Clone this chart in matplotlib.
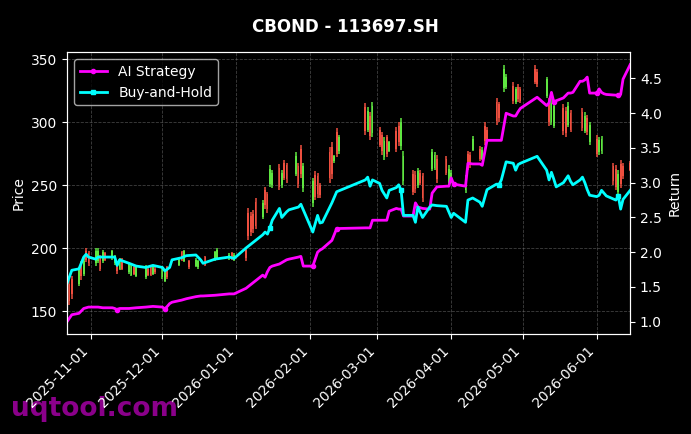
import matplotlib
matplotlib.use('Agg')
import matplotlib.pyplot as plt
import matplotlib.dates as mdates
from matplotlib.ticker import MultipleLocator
import pandas as pd

plt.style.use('dark_background')

# Strategy / benchmark cumulative return (right axis)
line_dates = [
    '2025-10-22', '2025-10-24', '2025-10-27', '2025-10-29', '2025-10-30', '2025-10-31',
    '2025-11-03', '2025-11-04', '2025-11-06', '2025-11-10', '2025-11-11', '2025-11-12',
    '2025-11-13', '2025-11-17', '2025-11-20', '2025-11-24', '2025-11-27', '2025-12-01',
    '2025-12-02', '2025-12-04', '2025-12-05', '2025-12-09', '2025-12-11', '2025-12-15',
    '2025-12-17', '2025-12-18', '2025-12-23', '2025-12-29', '2025-12-31', '2026-01-05',
    '2026-01-12', '2026-01-13', '2026-01-14', '2026-01-15', '2026-01-16', '2026-01-19',
    '2026-01-20', '2026-01-22', '2026-01-23', '2026-01-27', '2026-01-28', '2026-01-29',
    '2026-02-02', '2026-02-04', '2026-02-05', '2026-02-06', '2026-02-10', '2026-02-12',
    '2026-02-24', '2026-02-25', '2026-02-26', '2026-02-27', '2026-03-02', '2026-03-03',
    '2026-03-05', '2026-03-06', '2026-03-09', '2026-03-10', '2026-03-11', '2026-03-12',
    '2026-03-16', '2026-03-17', '2026-03-18', '2026-03-20', '2026-03-23', '2026-03-24',
    '2026-03-26', '2026-03-30', '2026-03-31', '2026-04-01', '2026-04-02', '2026-04-07',
    '2026-04-08', '2026-04-10', '2026-04-13', '2026-04-14', '2026-04-16', '2026-04-20',
    '2026-04-21', '2026-04-22', '2026-04-24', '2026-04-27', '2026-04-28', '2026-04-29',
    '2026-04-30', '2026-05-07', '2026-05-11', '2026-05-12', '2026-05-13', '2026-05-14',
    '2026-05-15', '2026-05-18', '2026-05-20', '2026-05-21', '2026-05-22', '2026-05-25',
    '2026-05-26', '2026-05-27', '2026-05-28', '2026-05-29', '2026-06-01', '2026-06-02',
    '2026-06-03', '2026-06-04', '2026-06-05', '2026-06-09', '2026-06-10', '2026-06-11',
    '2026-06-12', '2026-06-15',
]
ai_return = [
    1.00, 1.10, 1.12, 1.19, 1.20, 1.21,
    1.21, 1.21, 1.20, 1.20, 1.19, 1.17,
    1.19, 1.19, 1.20, 1.21, 1.22, 1.21,
    1.18, 1.26, 1.28, 1.31, 1.33, 1.36,
    1.37, 1.37, 1.38, 1.40, 1.40, 1.48,
    1.67, 1.64, 1.72, 1.78, 1.80, 1.83,
    1.85, 1.89, 1.90, 1.93, 1.94, 1.80,
    1.80, 2.00, 2.03, 2.05, 2.17, 2.34,
    2.35, 2.35, 2.35, 2.46, 2.46, 2.46,
    2.46, 2.59, 2.63, 2.62, 2.62, 2.52,
    2.52, 2.71, 2.65, 2.63, 2.62, 2.85,
    2.94, 2.95, 2.95, 3.07, 2.98, 2.95,
    3.28, 3.27, 3.27, 3.25, 3.61, 3.61,
    3.61, 3.61, 4.00, 3.96, 3.96, 4.02,
    4.07, 4.23, 4.11, 4.15, 4.30, 4.16,
    4.18, 4.22, 4.29, 4.29, 4.30, 4.46,
    4.46, 4.48, 4.52, 4.29, 4.29, 4.35,
    4.30, 4.28, 4.27, 4.26, 4.26, 4.27,
    4.49, 4.70,
]
bh_return = [
    1.55, 1.74, 1.76, 1.93, 1.97, 1.93,
    1.90, 1.93, 1.93, 1.93, 1.93, 1.81,
    1.89, 1.84, 1.80, 1.78, 1.81, 1.78,
    1.73, 1.78, 1.89, 1.92, 1.95, 1.96,
    1.89, 1.84, 1.90, 1.93, 1.91, 2.06,
    2.25, 2.29, 2.26, 2.35, 2.46, 2.63,
    2.50, 2.58, 2.61, 2.65, 2.69, 2.61,
    2.29, 2.53, 2.42, 2.43, 2.71, 2.87,
    3.04, 3.08, 2.95, 3.04, 2.99, 2.89,
    2.78, 2.89, 2.93, 2.97, 2.89, 2.53,
    2.53, 2.43, 2.65, 2.50, 2.65, 2.68,
    2.67, 2.66, 2.58, 2.50, 2.56, 2.43,
    2.75, 2.78, 2.72, 2.66, 2.90, 2.98,
    2.97, 3.04, 3.30, 3.28, 3.18, 3.26,
    3.28, 3.38, 3.18, 3.04, 3.15, 3.05,
    2.94, 3.00, 3.10, 3.02, 2.97, 3.04,
    3.08, 3.00, 2.90, 2.82, 2.80, 2.82,
    2.89, 2.85, 2.81, 2.75, 2.81, 2.62,
    2.76, 2.89,
]
# points where a trade marker shows on each curve
ai_marks = [11, 18, 42, 47, 70, 89, 100, 106]
bh_marks = [33, 58, 78, 106]

# Daily OHLC of the bond (left axis)
candle_dates = [
    '2025-10-22', '2025-10-23', '2025-10-24', '2025-10-27', '2025-10-28', '2025-10-29',
    '2025-10-30', '2025-10-31', '2025-11-03', '2025-11-04', '2025-11-05', '2025-11-06',
    '2025-11-07', '2025-11-10', '2025-11-11', '2025-11-12', '2025-11-13', '2025-11-14',
    '2025-11-17', '2025-11-18', '2025-11-19', '2025-11-20', '2025-11-24', '2025-11-25',
    '2025-11-26', '2025-11-27', '2025-11-28', '2025-12-01', '2025-12-02', '2025-12-03',
    '2025-12-08', '2025-12-09', '2025-12-10', '2025-12-12', '2025-12-15', '2025-12-16',
    '2025-12-19', '2025-12-23', '2025-12-24', '2025-12-29', '2025-12-30', '2025-12-31',
    '2026-01-05', '2026-01-06', '2026-01-07', '2026-01-08', '2026-01-09', '2026-01-12',
    '2026-01-13', '2026-01-14', '2026-01-15', '2026-01-16', '2026-01-19', '2026-01-20',
    '2026-01-21', '2026-01-22', '2026-01-26', '2026-01-27', '2026-01-28', '2026-01-29',
    '2026-02-02', '2026-02-03', '2026-02-04', '2026-02-05', '2026-02-09', '2026-02-10',
    '2026-02-11', '2026-02-12', '2026-02-13', '2026-02-24', '2026-02-25', '2026-02-26',
    '2026-02-27', '2026-03-02', '2026-03-03', '2026-03-04', '2026-03-05', '2026-03-06',
    '2026-03-09', '2026-03-10', '2026-03-11', '2026-03-12', '2026-03-16', '2026-03-17',
    '2026-03-18', '2026-03-19', '2026-03-20', '2026-03-24', '2026-03-25', '2026-03-26',
    '2026-03-30', '2026-03-31', '2026-04-01', '2026-04-07', '2026-04-08', '2026-04-09',
    '2026-04-10', '2026-04-13', '2026-04-14', '2026-04-15', '2026-04-16', '2026-04-20',
    '2026-04-21', '2026-04-23', '2026-04-24', '2026-04-27', '2026-04-28', '2026-04-29',
    '2026-04-30', '2026-05-06', '2026-05-07', '2026-05-11', '2026-05-12', '2026-05-13',
    '2026-05-14', '2026-05-18', '2026-05-19', '2026-05-20', '2026-05-21', '2026-05-26',
    '2026-05-27', '2026-05-28', '2026-05-29', '2026-06-01', '2026-06-02', '2026-06-03',
    '2026-06-08', '2026-06-09', '2026-06-10', '2026-06-11', '2026-06-12', '2026-06-15',
]
opens = [
    160, 172, 176, 172, 188, 180, 198, 196, 188, 190, 193, 190,
    196, 192, 188, 189, 184, 191, 181, 179, 185, 178, 177, 184,
    185, 180, 184, 177, 174, 185, 187, 197, 190, 190, 186, 185,
    193, 191, 192, 192, 196, 191, 199, 228, 226, 227, 237, 225,
    246, 243, 251, 250, 264, 250, 268, 266, 259, 265, 279, 248,
    236, 258, 257, 250, 276, 280, 269, 292, 277, 312, 294, 305,
    291, 294, 290, 272, 288, 277, 293, 297, 281, 253, 259, 258,
    250, 260, 257, 263, 264, 271, 271, 252, 253, 246, 275, 274,
    278, 279, 271, 297, 294, 316, 314, 327, 328, 329, 316, 328,
    326, 342, 340, 321, 316, 300, 297, 311, 309, 298, 307, 308,
    293, 303, 284, 287, 276, 277, 265, 263, 245, 267, 265, 268,
]
highs = [
    163, 175, 178, 185, 190, 192, 200, 198, 200, 200, 195, 199,
    197, 199, 195, 190, 192, 192, 189, 187, 186, 186, 187, 185,
    186, 187, 185, 186, 183, 186, 192, 198, 199, 191, 192, 191,
    194, 198, 200, 196, 197, 196, 200, 232, 229, 230, 240, 238,
    249, 245, 266, 262, 267, 262, 270, 268, 276, 268, 282, 268,
    256, 261, 260, 252, 280, 284, 274, 295, 290, 315, 312, 308,
    316, 296, 292, 288, 290, 285, 296, 300, 303, 277, 262, 261,
    264, 262, 260, 279, 276, 274, 273, 266, 262, 258, 277, 276,
    289, 281, 280, 300, 296, 319, 316, 345, 338, 332, 328, 330,
    328, 345, 342, 336, 319, 318, 316, 314, 312, 316, 310, 311,
    308, 306, 300, 290, 288, 289, 268, 266, 262, 270, 268, 269,
]
lows = [
    146, 155, 160, 170, 175, 178, 189, 186, 186, 188, 182, 188,
    190, 191, 187, 180, 183, 183, 180, 178, 179, 177, 176, 178,
    178, 179, 180, 176, 173, 176, 186, 190, 189, 184, 185, 184,
    186, 190, 191, 191, 191, 190, 190, 207, 210, 212, 215, 223,
    231, 228, 249, 248, 246, 248, 254, 252, 257, 248, 256, 245,
    233, 238, 240, 240, 252, 255, 268, 272, 275, 290, 292, 286,
    288, 280, 274, 270, 272, 276, 276, 281, 278, 250, 242, 244,
    248, 250, 237, 261, 262, 252, 258, 250, 252, 244, 262, 264,
    277, 269, 270, 282, 284, 298, 300, 324, 326, 314, 314, 316,
    315, 330, 328, 319, 297, 298, 295, 290, 288, 296, 292, 293,
    291, 290, 282, 272, 274, 275, 250, 246, 242, 248, 255, 261,
]
closes = [
    150, 158, 164, 183, 178, 190, 191, 188, 198, 198, 184, 197,
    191, 198, 194, 182, 191, 184, 188, 186, 180, 185, 186, 179,
    179, 186, 181, 185, 182, 177, 191, 191, 198, 185, 191, 190,
    187, 197, 199, 195, 192, 195, 192, 210, 213, 215, 218, 236,
    234, 231, 263, 260, 249, 260, 256, 255, 273, 251, 259, 265,
    253, 241, 243, 242, 256, 259, 273, 275, 288, 293, 309, 289,
    313, 282, 277, 285, 275, 284, 279, 284, 300, 273, 245, 247,
    261, 252, 240, 276, 274, 255, 260, 263, 260, 256, 264, 266,
    287, 271, 278, 285, 286, 301, 303, 342, 336, 317, 326, 318,
    317, 332, 330, 334, 300, 315, 313, 293, 291, 313, 294, 295,
    305, 292, 298, 275, 286, 287, 253, 249, 259, 251, 257, 262,
]

up_color = '#5fe641'
down_color = '#ee4f3f'

ohlc = pd.DataFrame({'open': opens, 'high': highs, 'low': lows, 'close': closes},
                    index=pd.to_datetime(candle_dates))
ret = pd.DataFrame({'ai': ai_return, 'bh': bh_return}, index=pd.to_datetime(line_dates))

fig, ax1 = plt.subplots(figsize=(6.91, 4.34), dpi=100)
fig.subplots_adjust(left=0.097, right=0.912, top=0.880, bottom=0.230)
fig.suptitle('CBOND - 113697.SH', fontsize=12, fontweight='bold', y=0.958)

# candlesticks
colors = [up_color if c >= o else down_color for o, c in zip(ohlc['open'], ohlc['close'])]
x = mdates.date2num(ohlc.index.to_pydatetime())
ax1.vlines(x, ohlc['low'], ohlc['high'], colors=colors, linewidth=1.1)
body_low = ohlc[['open', 'close']].min(axis=1)
body_h = (ohlc['close'] - ohlc['open']).abs()
ax1.bar(x, body_h, bottom=body_low, width=0.75, color=colors, linewidth=0)

ax1.set_ylabel('Price')
ax1.set_ylim(132, 355.5)
ax1.yaxis.set_major_locator(MultipleLocator(50))
ax1.grid(True, linestyle='--', linewidth=0.6, color='gray', alpha=0.5)

# returns on second axis
ax2 = ax1.twinx()
ax2.plot(ret.index, ret['ai'], color='magenta', linewidth=2, marker='o', markersize=3,
         markevery=ai_marks, label='AI Strategy')
ax2.plot(ret.index, ret['bh'], color='cyan', linewidth=2, marker='s', markersize=3,
         markevery=bh_marks, label='Buy-and-Hold')
ax2.set_ylabel('Return')
ax2.set_ylim(0.82, 4.88)
ax2.legend(loc='upper left', fontsize=10)

ax1.set_xlim(ret.index[0], ret.index[-1])
ax1.xaxis.set_major_locator(mdates.MonthLocator())
ax1.xaxis.set_major_formatter(mdates.DateFormatter('%Y-%m-%d'))
plt.setp(ax1.get_xticklabels(), rotation=45, ha='right')

# watermark, behind the tick labels
fig.text(0.016, 0.058, 'uqtool.com', fontsize=19, fontweight='bold', color='#8a008a',
         va='center', ha='left', zorder=-1)

fig.savefig('out.png', dpi=100, facecolor='black')
